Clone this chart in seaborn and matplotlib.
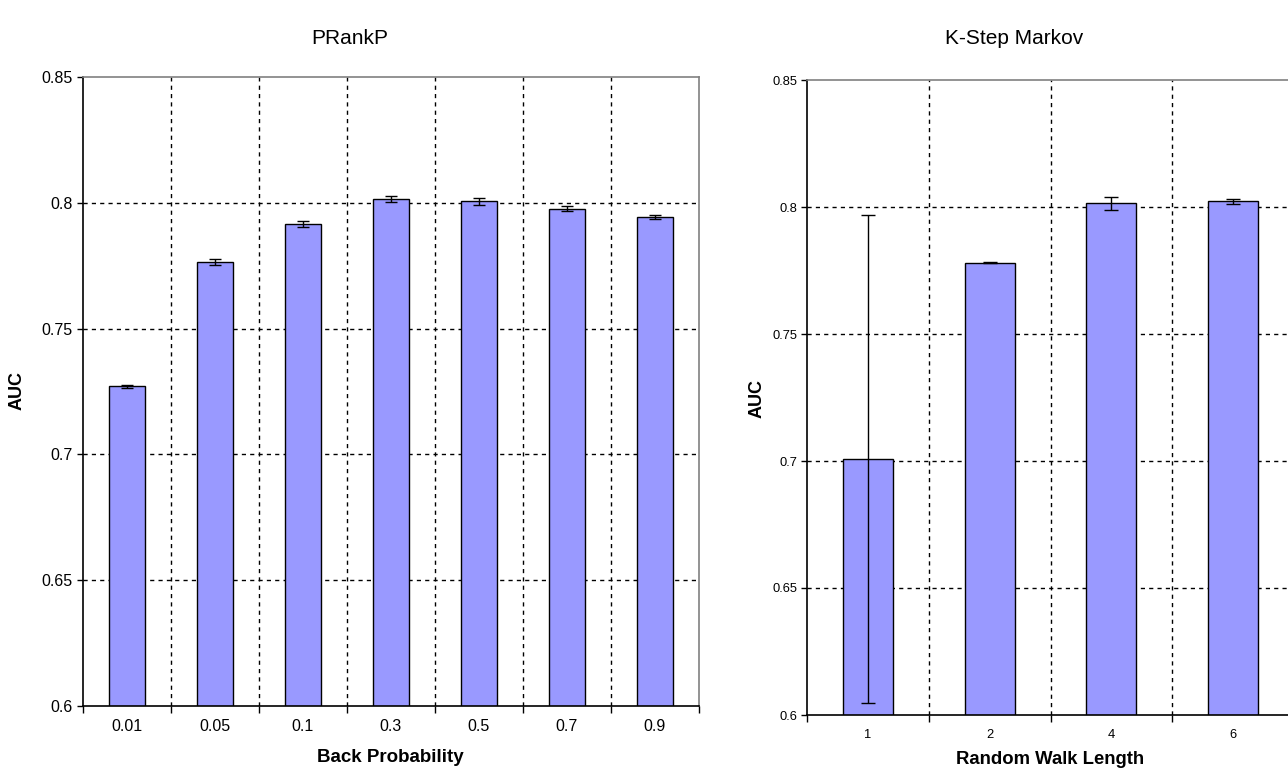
import matplotlib
matplotlib.use("Agg")
import matplotlib.pyplot as plt
import seaborn as sns
import pandas as pd
import numpy as np
from matplotlib.ticker import FixedLocator

# ---- data ----
prank_cats = ["0.01", "0.05", "0.1", "0.3", "0.5", "0.7", "0.9"]
prank_auc = [0.727, 0.7765, 0.7915, 0.8015, 0.8006, 0.7976, 0.7944]
prank_err = [0.0006, 0.0013, 0.0011, 0.0012, 0.0015, 0.0010, 0.0008]

kstep_cats = ["1", "2", "4", "6"]
kstep_auc = [0.7008, 0.7781, 0.8014, 0.8022]
kstep_err = [0.096, 0.0003, 0.0024, 0.0010]

yticks = [0.6, 0.65, 0.7, 0.75, 0.8, 0.85]
ytick_labels = ["0.6", "0.65", "0.7", "0.75", "0.8", "0.85"]

sns.set_theme(style="white")
plt.rcParams["font.family"] = ["Liberation Sans", "DejaVu Sans"]
plt.rcParams["text.color"] = "black"
plt.rcParams["axes.labelcolor"] = "black"
plt.rcParams["xtick.color"] = "black"
plt.rcParams["ytick.color"] = "black"

fig = plt.figure(figsize=(12.88, 7.71), dpi=100)
W, H = 1288, 771

def make_ax(x0, x1, ytop, ybot):
    return fig.add_axes([x0 / W, (H - ybot) / H, (x1 - x0) / W, (ybot - ytop) / H])

ax1 = make_ax(82.7, 698.7, 77, 706)
ax2 = make_ax(807, 1294, 80, 715)

BAR = "#9999FF"

def draw(ax, cats, vals, errs, xlabel, tick_fs, xpad, label_fs, label_y, cap):
    df = pd.DataFrame({"cat": cats, "auc": vals})
    sns.barplot(data=df, x="cat", y="auc", color=BAR, edgecolor="black",
                linewidth=1.0, width=0.41, saturation=1, ax=ax, errorbar=None)
    ax.errorbar(np.arange(len(cats)), vals, yerr=errs, fmt="none",
                ecolor="black", elinewidth=1.0, capsize=cap, capthick=1.0, zorder=5)
    n = len(cats)
    ax.set_xlim(-0.5, n - 0.5)
    ax.set_ylim(0.6, 0.85)
    ax.set_yticks(yticks)
    ax.set_yticklabels(ytick_labels, fontsize=tick_fs, color="black")
    ax.set_xticks(np.arange(n))
    ax.set_xticklabels(cats, fontsize=tick_fs, color="black")
    ax.xaxis.set_minor_locator(FixedLocator(np.arange(n + 1) - 0.5))
    ax.tick_params(axis="x", which="major", length=0, pad=xpad)
    ax.tick_params(axis="x", which="minor", length=5, width=1, color="black", direction="out", bottom=True)
    ax.tick_params(axis="y", which="major", length=4, width=1, color="black", direction="out", left=True, pad=3)
    ax.grid(False)
    for y in yticks[1:-1]:
        ax.axhline(y, color="black", linestyle=(0, (3, 3)), linewidth=1.0, zorder=0.5)
    for x in np.arange(1, n) - 0.5:
        ax.axvline(x, color="black", linestyle=(0, (3, 3)), linewidth=1.0, zorder=0.5)
    for s in ["left", "bottom"]:
        ax.spines[s].set_color("black")
        ax.spines[s].set_linewidth(1.2)
    for s in ["top", "right"]:
        ax.spines[s].set_color("#808080")
        ax.spines[s].set_linewidth(1.2)
    ax.set_xlabel(xlabel, fontsize=label_fs, fontweight="bold", color="black")
    ax.xaxis.set_label_coords(0.5, label_y)
    ax.xaxis.label.set_va("center")
    ax.set_ylabel("")
    ax.set_facecolor("white")

draw(ax1, prank_cats, prank_auc, prank_err, "Back Probability", 11.5, 9.5, 13.5, -(757 - 706) / 629, 4)
draw(ax2, kstep_cats, kstep_auc, kstep_err, "Random Walk Length", 9.3, 10, 13.3, -(759 - 715) / 635, 5)

fig.text(350 / W, 1 - 38 / H, "PRankP", ha="center", va="center", fontsize=15, color="black")
fig.text(1014 / W, 1 - 39 / H, "K-Step Markov", ha="center", va="center", fontsize=15, color="black")
fig.text(17 / W, 1 - 391 / H, "AUC", rotation=90, ha="center", va="center", fontsize=13, fontweight="bold", color="black")
fig.text(757 / W, 1 - 398 / H, "AUC", rotation=90, ha="center", va="center", fontsize=13, fontweight="bold", color="black")

fig.savefig("out.png", dpi=100, facecolor="white")
